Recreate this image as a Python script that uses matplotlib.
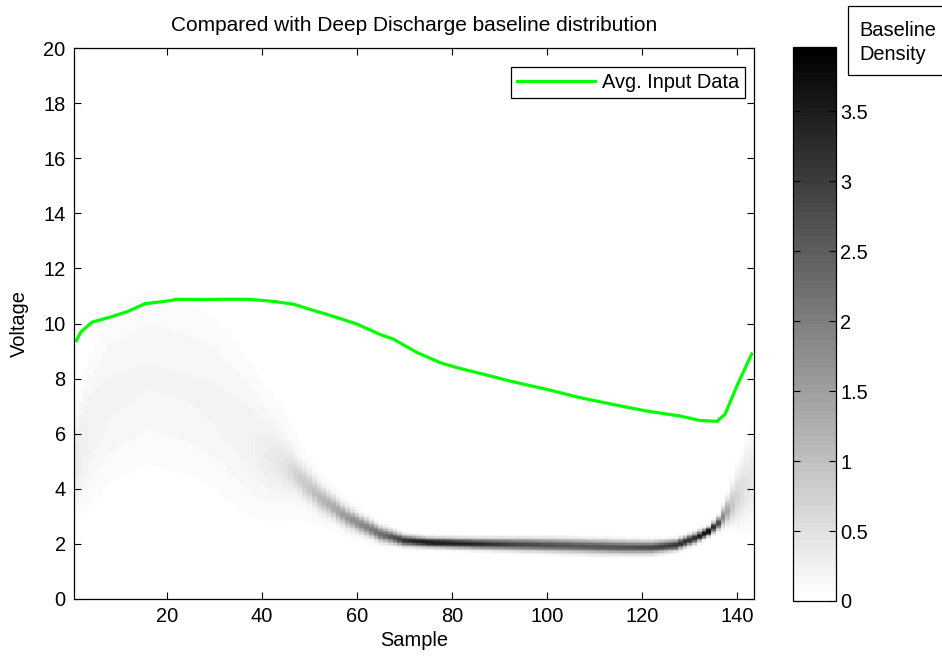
import numpy as np
import matplotlib
matplotlib.use('Agg')
import matplotlib.pyplot as plt
from matplotlib.colors import ListedColormap
from matplotlib.patches import Rectangle

# --- Avg. input data (green line) ---
avg_x = [1, 2, 4.3, 8.1, 11.7, 15.5, 17, 20.8, 22, 27.8, 32, 36.9, 40, 42.5, 46.7, 50,
         53.7, 57, 60, 64.9, 67.7, 72.6, 77.5, 81, 86.6, 92.2, 99.9, 106.9, 113.9, 121,
         128, 132.1, 135.7, 137.4, 139.9, 143]
avg_y = [9.38, 9.7, 10.05, 10.23, 10.43, 10.72, 10.75, 10.83, 10.88, 10.87, 10.88, 10.88,
         10.84, 10.8, 10.7, 10.52, 10.33, 10.15, 9.98, 9.6, 9.43, 8.95, 8.58, 8.40, 8.16,
         7.91, 7.61, 7.31, 7.06, 6.82, 6.64, 6.48, 6.45, 6.70, 7.73, 8.89]

# --- baseline distribution, read per sample knot ---
knot_x   = [1, 4, 8, 16, 24, 30, 36, 40, 44, 47, 52, 58, 65, 70, 75, 85, 95, 105, 115,
            122, 127, 131, 134, 136, 138, 140, 143]
broad_mu = [5.0, 6.2, 7.3, 8.05, 7.7, 7.1, 6.1, 5.4, 4.9, 4.5, 3.6, 3.0, 2.4, 2.2, 2.05,
            2.0, 1.97, 1.93, 1.88, 1.87, 1.95, 2.2, 2.45, 2.75, 3.2, 3.7, 4.4]
broad_sd = [1.1, 1.7, 2.0, 2.1, 2.1, 2.0, 1.8, 1.6, 1.45, 1.3, 0.9, 0.7, 0.5, 0.4, 0.4,
            0.4, 0.4, 0.4, 0.4, 0.4, 0.4, 0.4, 0.4, 0.4, 0.4, 0.6, 1.0]
ridge_w  = [0, 0, 0, 0, 0, 0, 0, 0.15, 0.35, 0.6, 0.75, 0.85, 0.95, 1, 1, 1, 1, 1, 1,
            1, 1, 1, 1, 1, 1, 1, 1]
ridge_mu = [5.0, 6.2, 7.3, 8.05, 7.7, 7.1, 6.1, 5.3, 4.95, 4.55, 3.7, 2.95, 2.35, 2.12,
            2.05, 2.0, 1.97, 1.93, 1.88, 1.87, 1.95, 2.2, 2.45, 2.75, 3.2, 3.7, 4.4]
ridge_sd = [1.1, 1.7, 2.0, 2.1, 2.1, 2.0, 1.8, 0.8, 0.6, 0.4, 0.3, 0.22, 0.17, 0.125,
            0.11, 0.12, 0.14, 0.15, 0.15, 0.14, 0.125, 0.12, 0.1, 0.14, 0.3, 0.6, 1.0]

plt.rcParams['font.family'] = ['Liberation Sans', 'DejaVu Sans']
plt.rcParams['font.size'] = 14.4


def gauss(v, mu, sd):
    return np.exp(-0.5 * ((v - mu) / sd) ** 2) / (sd * np.sqrt(2 * np.pi))


samples = np.arange(1, 144)
volt = np.linspace(0, 20, 401)
V = volt[:, None]
bm = np.interp(samples, knot_x, broad_mu)
bs = np.interp(samples, knot_x, broad_sd)
w = np.interp(samples, knot_x, ridge_w)
rm = np.interp(samples, knot_x, ridge_mu)
rs = np.interp(samples, knot_x, ridge_sd)
dens = (1 - w) * gauss(V, bm, bs) + w * gauss(V, rm, rs)

cmap = ListedColormap(plt.get_cmap('gray_r')(np.linspace(0, 1, 64)))

fig = plt.figure(figsize=(9.42, 6.58), dpi=100)
ax = fig.add_axes([74/942, 59/658, 680/942, 551/658])
cax = fig.add_axes([793/942, 57/658, 43/942, 554/658])

dv = volt[1] - volt[0]
im = ax.imshow(dens, extent=[0.5, 143.5, -dv/2, 20 + dv/2], origin='lower', aspect='auto',
               cmap=cmap, vmin=0, vmax=3.96, interpolation='nearest')
ax.plot(avg_x, avg_y, color=(0, 1, 0), lw=2.3, label='Avg. Input Data')

ax.set_xlim(0.5, 143.5)
ax.set_ylim(0, 20)
ax.set_xticks(range(20, 141, 20))
ax.set_yticks(range(0, 21, 2))
ax.tick_params(direction='in', length=5, width=0.8, top=True, right=True, pad=6)
for sp in ax.spines.values():
    sp.set_linewidth(0.9)
ax.set_xlabel('Sample', labelpad=3)
ax.set_ylabel('Voltage', labelpad=10)
ax.set_title('Compared with Deep Discharge baseline distribution', fontsize=15, pad=12)

leg = ax.legend(loc='upper right', bbox_to_anchor=((745-74)/680, (599-67)/551),
                borderaxespad=0, fancybox=False, edgecolor='black', framealpha=1,
                handlelength=3.9, handletextpad=0.35, borderpad=0.3)
leg.get_frame().set_linewidth(0.9)

cb = fig.colorbar(im, cax=cax)
cb.set_ticks([0, 0.5, 1, 1.5, 2, 2.5, 3, 3.5])
cb.set_ticklabels(['0', '0.5', '1', '1.5', '2', '2.5', '3', '3.5'])
cax.tick_params(direction='in', length=5, width=0.8, left=True, right=True, pad=3)
cb.outline.set_linewidth(0.9)

fig.add_artist(Rectangle((848/942, 1 - 75/658), 0.2, 69/658, transform=fig.transFigure,
                         fill=False, ec='black', lw=0.9, clip_on=False))
fig.text(859/942, 1 - 30/658, 'Baseline', va='center', ha='left')
fig.text(859/942, 1 - 55/658, 'Density', va='center', ha='left')

fig.savefig('out.png', dpi=100)
